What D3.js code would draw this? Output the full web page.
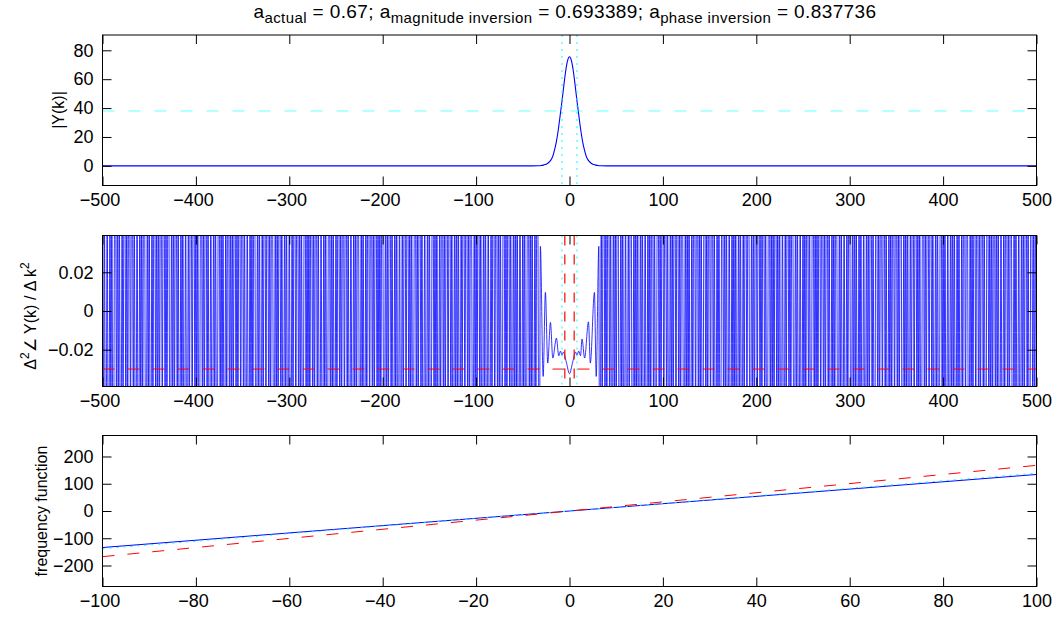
<!DOCTYPE html>
<html>
<head>
<meta charset="utf-8">
<script src="https://cdn.jsdelivr.net/npm/d3@7"></script>
<style>
  body { margin: 0; background: #fff; }
  svg { display: block; font-family: "Liberation Sans", Arial, Helvetica, sans-serif; }
</style>
</head>
<body>
<svg id="fig" width="1060" height="617"></svg>
<script>
// ---------------- data ----------------
// Panel 1: spectrum magnitude |Y(k)|
const magK = [-500, -40, -34, -30, -28, -26, -24, -22, -20, -18, -16, -14, -12, -10, -8, -6, -4, -2, 0,
              2, 4, 6, 8, 10, 12, 14, 16, 18, 20, 22, 24, 26, 28, 30, 34, 40, 500];
const magV = [0, 0, 0.1, 0.3, 0.5, 0.9, 1.5, 2.5, 4, 6.5, 11, 17, 25, 35, 45, 56, 66, 73, 75.5,
              73, 66, 56, 45, 35, 25, 17, 11, 6.5, 4, 2.5, 1.5, 0.9, 0.5, 0.3, 0.1, 0, 0];
const magHalf = 38;                 // half-maximum level
const halfWidthK = [-8, 8];         // half-width markers
const magYDomain = [-13.6, 90.6];
const magYTicks = [0, 20, 40, 60, 80];
const magYLabels = ["0", "20", "40", "60", "80"];

const wideXTicks = [-500, -400, -300, -200, -100, 0, 100, 200, 300, 400, 500];
const wideXLabels = ["\u2212500", "\u2212400", "\u2212300", "\u2212200", "\u2212100", "0", "100", "200", "300", "400", "500"];

// Panel 2: second difference of the phase.
// Outside the central lobe the values swing far beyond the axis limits; each digit is the
// number of consecutive sign flips before the sign repeats once.
const d2RunsLeft  = ("4352645343625473526453436254352647534362543526453436275435264534362543572645343625435264534743526453" +
                     "4362547352645343625435264753436254352645343627543526453436254357264534362543526453474352645343625473").split("").map(Number);
const d2RunsRight = ("3546253427536425346352743625345263754326354276345253642735462534275364253463527436253452637543263542" +
                     "7634525364273546253427536425346352743625345263754326354276345253642735462534275364").split("").map(Number);
const d2OuterMag = 0.06;
const d2OuterLeft = [-500, -34];
const d2OuterRight = [34, 500];
// central lobe
const d2CenterK = [-33, -32, -31.2, -28.2, -25.8, -23.3, -20.4, -17.9, -14.0, -11.5, -9.7, -8.0, -6.5, -3.5, 0,
                   3.5, 6.5, 8.0, 9.9, 11.8, 13.4, 16.2, 20.3, 22.3, 26.7, 28.6, 31.4, 32, 33];
const d2CenterV = [-0.06, -0.06, 0.0334, -0.0338, 0.0096, -0.0269, -0.0059, -0.0243, -0.0140, -0.0231, -0.0207, -0.0228, -0.0212, -0.0262, -0.0324,
                   -0.0262, -0.0212, -0.0228, -0.0207, -0.0231, -0.0145, -0.0243, -0.0056, -0.0269, 0.0096, -0.0338, 0.0334, -0.06, -0.06];
const d2Threshold = -0.03;
const d2LimitK = [-5, 5];
const d2YDomain = [-0.039, 0.039];
const d2YTicks = [-0.02, 0, 0.02];
const d2YLabels = ["\u22120.02", "0", "0.02"];

// Panel 3: frequency function
const ffK = [-100, 0, 100];
const ffActual = [-134, 0, 134];        // blue solid
const ffMagInv = [-138.7, 0, 138.7];    // cyan dotted
const ffPhaseInv = [-167.5, 0, 167.5];  // red dashed
const ffYDomain = [-277, 277];
const ffXTicks = [-100, -80, -60, -40, -20, 0, 20, 40, 60, 80, 100];
const ffXLabels = ["\u2212100", "\u221280", "\u221260", "\u221240", "\u221220", "0", "20", "40", "60", "80", "100"];
const ffYTicks = [-200, -100, 0, 100, 200];
const ffYLabels = ["\u2212200", "\u2212100", "0", "100", "200"];

// ---------------- layout ----------------
const svg = d3.select("#fig");
svg.append("rect").attr("width", 1060).attr("height", 617).attr("fill", "#fff");

const L = 102.5, R = 1036.5;
const TICK_FONT = 18, LABEL_FONT = 16;
const BLUE = "#0000ff", RED = "#ff0000", CYAN = "#00ffff";

function makePanel(id, top, bottom, xDomain, yDomain) {
  const x = d3.scaleLinear().domain(xDomain).range([L, R]);
  const y = d3.scaleLinear().domain(yDomain).range([bottom, top]);
  const g = svg.append("g");
  svg.append("clipPath").attr("id", id).append("rect")
    .attr("x", L).attr("y", top).attr("width", R - L).attr("height", bottom - top);
  const plot = g.append("g").attr("clip-path", `url(#${id})`);
  return { x, y, g, plot, top, bottom };
}

function drawAxes(p, xTicks, xLabels, yTicks, yLabels) {
  const { x, y, g, top, bottom } = p;
  const ax = g.append("g");
  const bx = ax.append("g").attr("transform", `translate(0,${bottom})`)
    .call(d3.axisBottom(x).tickValues(xTicks).tickFormat((d, i) => xLabels[i])
      .tickSizeInner(-9).tickSizeOuter(0).tickPadding(8));
  // negative labels sit slightly left of their tick
  bx.selectAll(".tick text").attr("dx", d => (d < 0 ? -3 : 0));
  ax.append("g").attr("transform", `translate(0,${top})`)
    .call(d3.axisTop(x).tickValues(xTicks).tickFormat("").tickSizeInner(-9).tickSizeOuter(0));
  ax.append("g").attr("transform", `translate(${L},0)`)
    .call(d3.axisLeft(y).tickValues(yTicks).tickFormat((d, i) => yLabels[i])
      .tickSizeInner(-9).tickSizeOuter(0).tickPadding(9));
  ax.append("g").attr("transform", `translate(${R},0)`)
    .call(d3.axisRight(y).tickValues(yTicks).tickFormat("").tickSizeInner(-9).tickSizeOuter(0));
  ax.selectAll(".domain").remove();
  ax.selectAll(".tick line").attr("stroke", "#000").attr("stroke-width", 1);
  ax.selectAll(".tick text").attr("fill", "#000").attr("font-size", TICK_FONT)
    .attr("font-family", "Liberation Sans, Arial, sans-serif");
  g.append("rect").attr("x", L).attr("y", top).attr("width", R - L).attr("height", bottom - top)
    .attr("fill", "none").attr("stroke", "#000").attr("stroke-width", 1);
}

function seriesLine(p, ks, vs, color, width, dash, curve) {
  const line = d3.line().x(d => p.x(d[0])).y(d => p.y(d[1])).curve(curve || d3.curveLinear);
  p.plot.append("path").datum(ks.map((k, i) => [k, vs[i]]))
    .attr("d", line).attr("fill", "none").attr("stroke", color).attr("stroke-width", width)
    .attr("stroke-dasharray", dash || null);
}
function hLine(p, v, color, width, dash) {
  const [a, b] = p.x.domain();
  seriesLine(p, [a, b], [v, v], color, width, dash);
}
function vLine(p, k, color, width, dash) {
  const [a, b] = p.y.domain();
  p.plot.append("line").attr("x1", p.x(k)).attr("x2", p.x(k)).attr("y1", p.y(b)).attr("y2", p.y(a))
    .attr("stroke", color).attr("stroke-width", width).attr("stroke-dasharray", dash || null);
}

// ---------------- panel 1 ----------------
const p1 = makePanel("clip1", 35, 185.5, [-500, 500], magYDomain);
seriesLine(p1, magK, magV, BLUE, 1.1, null, d3.curveMonotoneX);
hLine(p1, magHalf, CYAN, 0.6, "12,14");
halfWidthK.forEach(k => vLine(p1, k, CYAN, 1, "2,5"));
drawAxes(p1, wideXTicks, wideXLabels, magYTicks, magYLabels);

// ---------------- panel 2 ----------------
const p2 = makePanel("clip2", 235.5, 386.5, [-500, 500], d2YDomain);
function expandRuns(runs, range) {
  const ks = [], vs = [];
  let sign = 1, k = range[0];
  for (const n of runs) {
    for (let j = 0; j < n && k <= range[1]; j++) {
      ks.push(k); vs.push(sign * d2OuterMag); k++;
      if (j < n - 1) sign = -sign;
    }
    if (k > range[1]) break;
  }
  return { ks, vs };
}
const leftPart = expandRuns(d2RunsLeft, d2OuterLeft);
const rightPart = expandRuns(d2RunsRight, d2OuterRight);
const d2K = leftPart.ks.concat(d2CenterK, rightPart.ks);
const d2V = leftPart.vs.concat(d2CenterV, rightPart.vs);
seriesLine(p2, d2K, d2V, BLUE, 0.8, null, d3.curveMonotoneX);
hLine(p2, d2Threshold, RED, 1, "12,13");
d2LimitK.forEach(k => vLine(p2, k, RED, 1.2, "10,9"));
halfWidthK.forEach(k => vLine(p2, k, CYAN, 1, "2,5"));
drawAxes(p2, wideXTicks, wideXLabels, d2YTicks, d2YLabels);

// ---------------- panel 3 ----------------
const p3 = makePanel("clip3", 435.5, 586.5, [-100, 100], ffYDomain);
seriesLine(p3, ffK, ffActual, BLUE, 1);
seriesLine(p3, ffK, ffMagInv, CYAN, 1, "2,5");
seriesLine(p3, ffK, ffPhaseInv, RED, 1, "12,13");
drawAxes(p3, ffXTicks, ffXLabels, ffYTicks, ffYLabels);

// ---------------- labels ----------------
function yLabel(xBase, yCenter, build) {
  const t = svg.append("text").attr("transform", `translate(${xBase},${yCenter}) rotate(-90)`)
    .attr("text-anchor", "middle").attr("font-size", LABEL_FONT).attr("fill", "#000");
  build(t);
}
yLabel(64, 110, t => t.text("|Y(k)|"));
yLabel(36, 316, t => {
  t.append("tspan").text("\u0394");
  t.append("tspan").attr("font-size", 12).attr("dy", -7).text("2");
  t.append("tspan").attr("dy", 7).text("\u2220 Y(k) / \u0394 k");
  t.append("tspan").attr("font-size", 12).attr("dy", -7).text("2");
});
yLabel(47, 511, t => t.text("frequency function"));

// title with subscripts
const title = svg.append("text").attr("x", 565).attr("y", 18).attr("text-anchor", "middle")
  .attr("font-size", 19).attr("letter-spacing", 0.4).attr("fill", "#000");
const titleParts = [
  ["a", null], ["actual", "sub"], [" = 0.67; a", null], ["magnitude inversion", "sub"],
  [" = 0.693389; a", null], ["phase inversion", "sub"], [" = 0.837736", null]
];
let shifted = false;
titleParts.forEach(([s, kind]) => {
  const ts = title.append("tspan").text(s);
  if (kind === "sub") { ts.attr("font-size", 15).attr("dy", shifted ? 0 : 5); shifted = true; }
  else { if (shifted) ts.attr("dy", -5); shifted = false; }
});
</script>
</body>
</html>
